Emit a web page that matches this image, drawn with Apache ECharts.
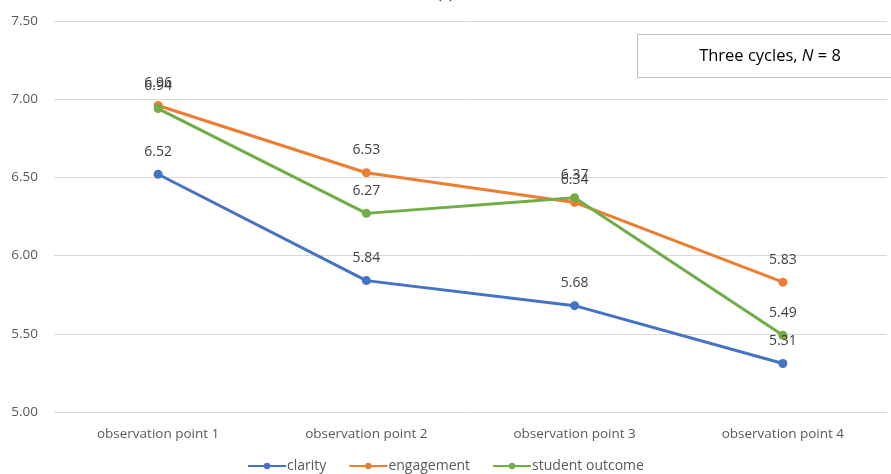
<!DOCTYPE html>
<html>
<head>
<meta charset="utf-8">
<script src="https://cdn.jsdelivr.net/npm/echarts@6/dist/echarts.min.js"></script>
<style>
  html, body { margin: 0; padding: 0; background: #fff; }
  #chart { width: 891px; height: 474px; }
</style>
</head>
<body>
<div id="chart"></div>
<script>
// Observation points along the x axis
const categories = ['observation point 1', 'observation point 2', 'observation point 3', 'observation point 4'];

// Mean ratings per dimension
const clarity = [6.52, 5.84, 5.68, 5.31];
const engagement = [6.96, 6.53, 6.34, 5.83];
const studentOutcome = [6.94, 6.27, 6.37, 5.49];

// Value axis range
const yMin = 5.0;
const yMax = 7.5;
const yStep = 0.5;

const FONT = '"Open Sans", "Noto Sans", sans-serif';
const LABEL_COLOR = '#404040';

function makeSeries(name, data, color) {
  return {
    name: name,
    type: 'line',
    data: data,
    smooth: false,
    symbol: 'circle',
    symbolSize: 9,
    lineStyle: { width: 3, color: color },
    itemStyle: { color: color },
    label: {
      show: true,
      position: 'top',
      distance: 11,
      color: LABEL_COLOR,
      fontFamily: FONT,
      fontSize: 14,
      formatter: p => p.value.toFixed(2)
    }
  };
}

const chart = echarts.init(document.getElementById('chart'));
chart.setOption({
  animation: false,
  backgroundColor: '#ffffff',
  grid: { left: 54, right: 4, top: 21, bottom: 62 },
  xAxis: {
    type: 'category',
    data: categories,
    boundaryGap: true,
    axisLine: { show: false },
    axisTick: { show: false },
    axisLabel: { color: '#595959', fontFamily: FONT, fontSize: 13.5, margin: 15 }
  },
  yAxis: {
    type: 'value',
    min: yMin,
    max: yMax,
    interval: yStep,
    axisLine: { show: false },
    axisTick: { show: false },
    splitLine: { lineStyle: { color: '#d9d9d9', width: 1 } },
    axisLabel: {
      color: '#595959',
      fontFamily: FONT,
      fontSize: 13.5,
      margin: 16,
      formatter: v => v.toFixed(2)
    }
  },
  legend: {
    bottom: -4,
    left: 'center',
    itemWidth: 38,
    itemHeight: 8,
    itemGap: 22,
    textStyle: { color: '#595959', fontFamily: FONT, fontSize: 14, padding: [0, 0, 0, -4] },
    data: ['clarity', 'engagement', 'student outcome']
  },
  series: [
    makeSeries('clarity', clarity, '#4472c4'),
    makeSeries('engagement', engagement, '#ed7d31'),
    makeSeries('student outcome', studentOutcome, '#70ad47')
  ],
  graphic: [
    {
      type: 'text',
      left: 'center',
      top: -14,
      style: { text: '(a)', font: '16px "Liberation Serif", serif', fill: '#000' }
    },
    {
      type: 'rect',
      shape: { x: 637.5, y: 34.5, width: 270, height: 43 },
      style: { fill: '#ffffff', stroke: '#bfbfbf', lineWidth: 1 },
      z: 10
    },
    {
      type: 'text',
      x: 770,
      y: 56,
      z: 11,
      style: {
        text: '{n|Three cycles, }{i|N}{n| = 8}',
        align: 'center',
        verticalAlign: 'middle',
        rich: {
          n: { fontFamily: FONT, fontSize: 16.5, fill: '#000' },
          i: { fontFamily: FONT, fontSize: 16.5, fontStyle: 'italic', fill: '#000' }
        }
      }
    }
  ]
});
</script>
</body>
</html>
